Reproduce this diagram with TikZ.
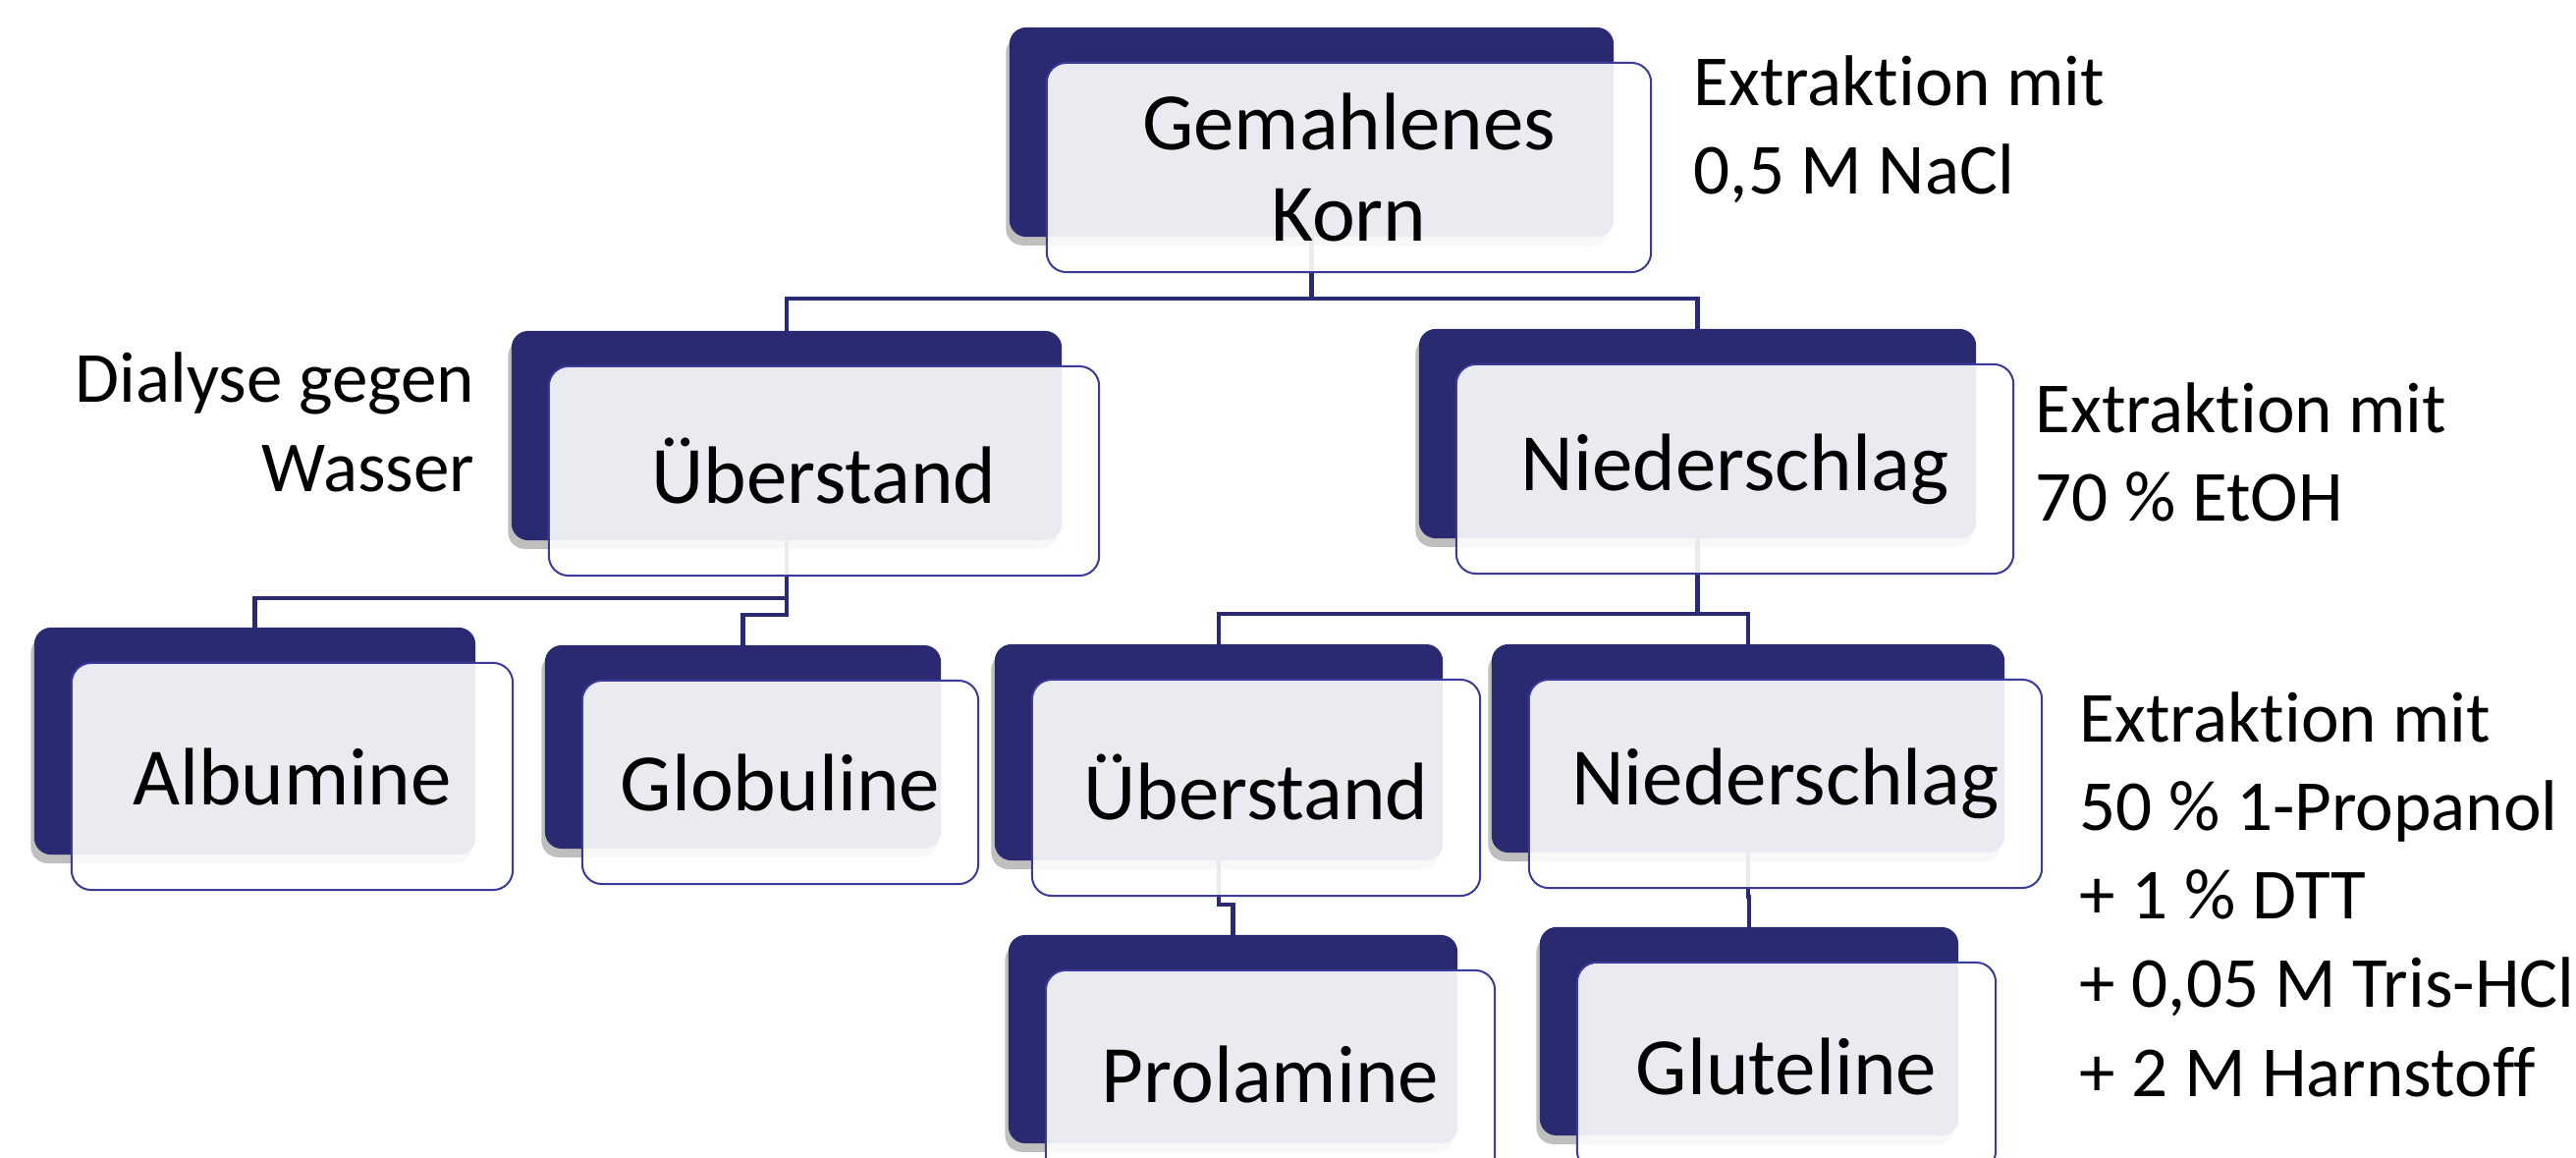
\documentclass[tikz,border=0pt]{standalone}
\usepackage{fontspec}
\setmainfont{Carlito}[Ligatures={NoCommon,NoContextual,NoRare}]
\usepackage{tikz}
\usetikzlibrary{calc,shadows}
\definecolor{navy}{HTML}{2A2A72}
\definecolor{rim}{HTML}{3B3B9B}
\tikzset{
  back/.style={rectangle, fill=navy, rounded corners=0.17cm, outer sep=0pt,
    drop shadow={shadow xshift=-1pt, shadow yshift=-2.5pt, opacity=0.25, fill=black}},
  front/.style={rectangle, draw=rim, line width=0.02cm, fill=white, fill opacity=0.9,
    text opacity=1, rounded corners=0.2cm, align=center, inner sep=0pt,
    font=\fontsize{23.6}{26.2}\selectfont},
  link/.style={draw=navy, line width=0.045cm},
  note/.style={inner sep=0pt, font=\fontsize{20.8}{25.6}\selectfont}
}

\begin{document}
\begin{tikzpicture}[x=0.01cm, y=-0.01cm]
  \fill[white] (0,0) rectangle (2623,1179);
  \useasboundingbox (0,0) rectangle (2623,1179);

  % dark backing cards
  \node[back, minimum width=6.15cm, minimum height=2.13cm] (korn) at (1335.5,134.5) {};
  \node[back, minimum width=5.60cm, minimum height=2.13cm] (ueb1) at (801,443.5) {};
  \node[back, minimum width=5.67cm, minimum height=2.13cm] (nie1) at (1728.5,441.5) {};
  \node[back, minimum width=4.49cm, minimum height=2.31cm] (alb) at (259.5,754.5) {};
  \node[back, minimum width=4.03cm, minimum height=2.07cm] (glo) at (756.5,760.5) {};
  \node[back, minimum width=4.56cm, minimum height=2.20cm] (ueb2) at (1241,766) {};
  \node[back, minimum width=5.22cm, minimum height=2.12cm] (nie2) at (1780,762) {};
  \node[back, minimum width=4.57cm, minimum height=2.12cm] (pro) at (1255.5,1058) {};
  \node[back, minimum width=4.26cm, minimum height=2.12cm] (glu) at (1781,1050) {};

  % elbow connectors
  \draw[link] (korn.south) -- ++(0,63) -| (ueb1.north);
  \draw[link] (korn.south) -- ++(0,63) -| (nie1.north);
  \draw[link] (ueb1.south) -- ++(0,59) -| (alb.north);
  \draw[link] (ueb1.south) -- ++(0,76) -| (glo.north);
  \draw[link] (nie1.south) -- ++(0,77) -| (ueb2.north);
  \draw[link] (nie1.south) -- ++(0,77) -| (nie2.north);
  \draw[link] (ueb2.south) -- ++(0,45) -| (pro.north);
  \draw[link] (nie2.south) -- ++(0,45) -| (glu.north);

  % light cards with labels
  \node[front, minimum width=6.15cm, minimum height=2.13cm] (korn-t) at ($(korn)+(38,36)$) {Gemahlenes\\Korn};
  \node[front, minimum width=5.60cm, minimum height=2.13cm] (ueb1-t) at ($(ueb1)+(38,36)$) {Überstand};
  \node[front, minimum width=5.67cm, minimum height=2.13cm] (nie1-t) at ($(nie1)+(38,36)$) {Niederschlag};
  \node[front, minimum width=4.49cm, minimum height=2.31cm] (alb-t) at ($(alb)+(38,36)$) {Albumine};
  \node[front, minimum width=4.03cm, minimum height=2.07cm] (glo-t) at ($(glo)+(38,36)$) {Globuline};
  \node[front, minimum width=4.56cm, minimum height=2.20cm] (ueb2-t) at ($(ueb2)+(38,36)$) {Überstand};
  \node[front, minimum width=5.22cm, minimum height=2.12cm] (nie2-t) at ($(nie2)+(38,36)$) {Niederschlag};
  \node[front, minimum width=4.57cm, minimum height=2.12cm] (pro-t) at ($(pro)+(38,36)$) {Prolamine};
  \node[front, minimum width=4.26cm, minimum height=2.12cm] (glu-t) at ($(glu)+(38,36)$) {Gluteline};

  % extraction steps (anchored at the baseline of the last line)
  \node[note, align=left, anchor=base west] (nacl) at (1724,198) {Extraktion mit\\0,5 M NaCl};
  \node[note, align=left, anchor=base west] (etoh) at (2072,531) {Extraktion mit\\70 \% EtOH};
  \node[note, align=left, anchor=base west] (prop) at (2117,1116)
    {Extraktion mit\\50 \% 1-Propanol\\+ 1 \% DTT\\+ 0,05 M Tris-HCl\\+ 2 M Harnstoff};
  \node[note, align=right, anchor=base east] (dial) at (484,500) {Dialyse gegen\\Wasser};
\end{tikzpicture}
\end{document}
